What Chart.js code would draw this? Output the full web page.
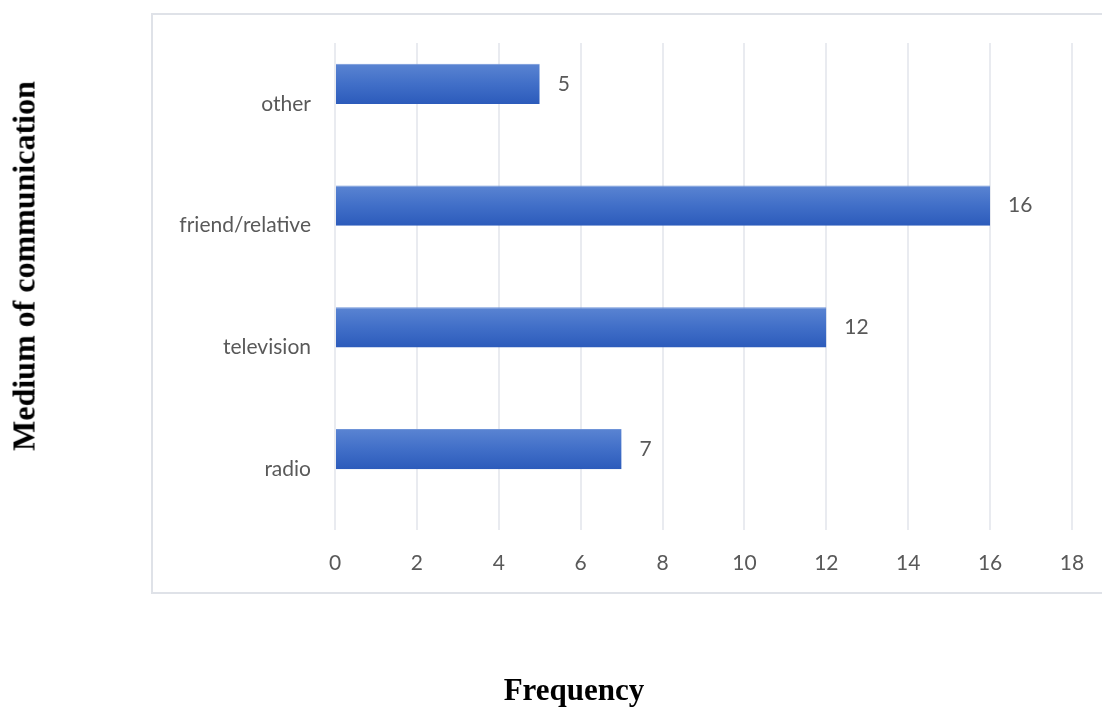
<!DOCTYPE html>
<html>
<head>
<meta charset="utf-8">
<script src="https://cdn.jsdelivr.net/npm/chart.js@4/dist/chart.umd.min.js"></script>
<style>
    html, body { margin: 0; padding: 0; background: #fff; overflow: hidden; }
    #page  { position: relative; width: 1102px; height: 707px; overflow: hidden; }
    #frame { position: absolute; left: 151px; top: 13px; width: 1000px; height: 577px; border: 2px solid #dfe2e8; }
    #chart { position: absolute; left: 0; top: 0; }
    .title { position: absolute; font-family: "Liberation Serif", "Times New Roman", serif; font-weight: bold; color: #000; white-space: nowrap; }
    #y-title { left: 24px; top: 266px; font-size: 32px; transform: translate(-50%, -50%) rotate(-90deg); }
    #x-title { left: 574px; top: 690px; font-size: 31px; transform: translate(-50%, -50%); }
</style>
</head>
<body>
<div id="page">
    <div id="frame"></div>
    <canvas id="chart" width="1102" height="707"></canvas>
    <div class="title" id="y-title">Medium of communication</div>
    <div class="title" id="x-title">Frequency</div>
</div>
<script>
// ─── データ ───
const categories = ['other', 'friend/relative', 'television', 'radio'];
const frequency  = [5, 16, 12, 7];
const xTicks     = [0, 2, 4, 6, 8, 10, 12, 14, 16, 18];

const labelColor = '#595959';
const tickFont   = { family: 'Lato, "Open Sans", sans-serif', size: 21 };

// 棒のグラデーション（上が明るく下が濃い）
function barFill(ctx) {
    const el = ctx.chart.getDatasetMeta(0).data[ctx.dataIndex];
    if (!el || !isFinite(el.y) || !isFinite(el.height)) return '#3f6cc6';
    const g = ctx.chart.ctx.createLinearGradient(0, el.y - el.height / 2, 0, el.y + el.height / 2);
    g.addColorStop(0, '#5a84d2');
    g.addColorStop(0.5, '#416fc8');
    g.addColorStop(1, '#2c5bbb');
    return g;
}

// 値ラベル（棒の右側）
const valueLabels = {
    id: 'valueLabels',
    afterDatasetsDraw(chart) {
        const c = chart.ctx;
        const meta = chart.getDatasetMeta(0);
        c.save();
        c.fillStyle = labelColor;
        c.font = `${tickFont.size}px ${tickFont.family}`;
        c.textAlign = 'left';
        c.textBaseline = 'middle';
        meta.data.forEach((bar, i) => {
            c.fillText(String(frequency[i]), bar.x + 18, bar.y);
        });
        c.restore();
    },
};

new Chart(document.getElementById('chart'), {
    type: 'bar',
    data: {
        labels: categories,
        datasets: [
            {
                label: 'Frequency',
                data: frequency,
                backgroundColor: barFill,
                borderColor: '#6e93d8',
                borderWidth: { top: 1, bottom: 0, left: 0, right: 0 },
                borderSkipped: false,
                barPercentage: 1,
                categoryPercentage: 0.66,
            },
            // 空の系列：Excel のように棒を目盛りの上側に寄せるため
            { label: '', data: [], barPercentage: 1, categoryPercentage: 0.66 },
        ],
    },
    options: {
        indexAxis: 'y',
        responsive: false,
        animation: false,
        layout: { padding: { top: 43, right: 30, bottom: 127, left: 0 } },
        plugins: {
            legend: { display: false },
            tooltip: { enabled: false },
        },
        scales: {
            x: {
                min: 0,
                max: 18,
                afterFit: (s) => { s.height = 50; s.paddingLeft = 0; s.paddingRight = 0; },
                afterBuildTicks: (s) => { s.ticks = xTicks.map(v => ({ value: v })); },
                grid: { color: '#e9ebf0', lineWidth: 2, drawTicks: false },
                border: { display: false },
                ticks: { color: labelColor, font: tickFont, padding: 21 },
            },
            y: {
                afterFit: (s) => { s.width = 335; },
                grid: { display: false, drawTicks: false },
                border: { display: false },
                ticks: { color: labelColor, font: tickFont, padding: 24 },
            },
        },
    },
    plugins: [valueLabels],
}).update('none');
</script>
</body>
</html>
